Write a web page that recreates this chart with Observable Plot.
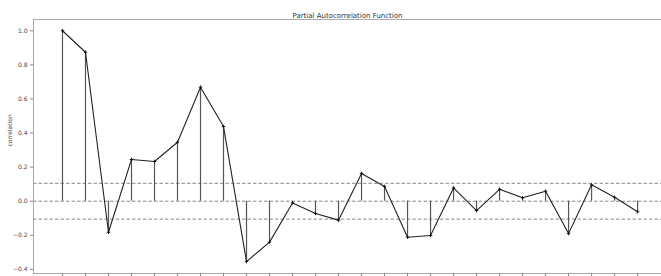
<!DOCTYPE html>
<html>
<head>
<meta charset="utf-8">
<script src="https://cdn.jsdelivr.net/npm/d3@7"></script>
<script src="https://cdn.jsdelivr.net/npm/@observablehq/plot@0.6"></script>
<style>
  html, body { margin: 0; padding: 0; background: #fff; }
  svg { display: block; }
</style>
</head>
<body>
<div id="chart"></div>
<script>
const lags = d3.range(0, 26);
const pacf = [1.0, 0.874, -0.182, 0.245, 0.233, 0.346, 0.669, 0.438, -0.354, -0.24,
  -0.01, -0.072, -0.111, 0.163, 0.086, -0.211, -0.201, 0.078, -0.055, 0.07,
  0.02, 0.059, -0.19, 0.096, 0.023, -0.062];
const confBand = 0.105;
const yTicks = [-0.4, -0.2, 0.0, 0.2, 0.4, 0.6, 0.8, 1.0];
const titleText = "Partial Autocorrelation Function";
const yLabel = "correlation";

const data = lags.map((l, i) => ({lag: l, value: pacf[i]}));
const xDom = [-1.26, 26.04];
const yDom = [-0.424, 1.066];

const chart = Plot.plot({
  width: 661,
  height: 276,
  marginTop: 19,
  marginBottom: 3,
  marginLeft: 33,
  marginRight: 0,
  style: {fontFamily: "DejaVu Sans, sans-serif", fontSize: "6px", color: "#444", background: "#fff"},
  x: {domain: xDom},
  y: {domain: yDom},
  marks: [
    Plot.ruleY([0, confBand, -confBand], {stroke: "#888", strokeWidth: 1, strokeDasharray: "3.5,2"}),
    Plot.ruleX(data, {x: "lag", y1: 0, y2: "value", stroke: "#555", strokeWidth: 1.2}),
    Plot.line(data, {x: "lag", y: "value", stroke: "#222", strokeWidth: 1.1}),
    Plot.dot(data, {x: "lag", y: "value", symbol: "plus", r: 1.2, stroke: "#111", strokeWidth: 1}),
    Plot.ruleX([xDom[0]], {stroke: "#aaa", strokeWidth: 1}),
    Plot.ruleY([yDom[0], yDom[1]], {stroke: "#aaa", strokeWidth: 1}),
    Plot.axisX({ticks: lags, tickFormat: () => "", tickSize: 3, label: null, stroke: "#888"}),
    Plot.axisY({ticks: yTicks, tickFormat: d3.format(".1f"), tickSize: 3, tickPadding: 3, label: null, stroke: "#888", fill: "#444"}),
    Plot.text([titleText], {frameAnchor: "top", dy: -6, fontSize: 7, fill: "#333"}),
    Plot.text([yLabel], {frameAnchor: "left", dx: -23, rotate: -90, fontSize: 6, fill: "#444"})
  ]
});
document.getElementById("chart").appendChild(chart);
</script>
</body>
</html>
